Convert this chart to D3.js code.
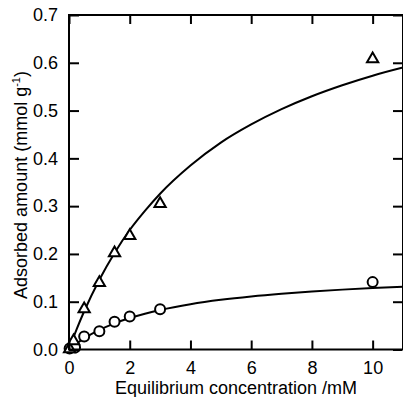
<!DOCTYPE html>
<html>
<head>
<meta charset="utf-8">
<script src="https://cdn.jsdelivr.net/npm/d3@7"></script>
<style>
  body { margin: 0; background: #fff; }
  svg { display: block; font-family: "Liberation Sans", Arial, sans-serif; }
</style>
</head>
<body>
<svg id="chart" width="403" height="397"></svg>
<script>
// measured points (triangles / circles)
const triX = [0.02, 0.15, 0.5, 1.0, 1.5, 2.0, 3.0, 10];
const triY = [0.003, 0.02, 0.087, 0.142, 0.204, 0.24, 0.307, 0.61];
const cirX = [0.02, 0.2, 0.5, 1.0, 1.5, 2.0, 3.0, 10];
const cirY = [0.002, 0.004, 0.027, 0.038, 0.058, 0.069, 0.084, 0.141];

// fitted curves
const fitX = [0, 0.25, 0.5, 1, 1.5, 2, 2.5, 3, 4, 5, 6, 7, 8, 9, 10, 11];
const triFitY = [0, 0.042, 0.080, 0.146, 0.202, 0.250, 0.290, 0.326, 0.385, 0.433, 0.471, 0.503, 0.530, 0.553, 0.573, 0.590];
const cirFitY = [0, 0.0125, 0.0232, 0.0409, 0.0547, 0.0658, 0.075, 0.0826, 0.0947, 0.1039, 0.111, 0.1167, 0.1214, 0.1253, 0.1286, 0.1315];

const xTicks = [0, 2, 4, 6, 8, 10];
const yTicks = [0, 0.1, 0.2, 0.3, 0.4, 0.5, 0.6, 0.7];

const svg = d3.select("#chart");
const mLeft = 69, mRight = 403, mTop = 15, mBottom = 349.5;

const x = d3.scaleLinear().domain([0, 11]).range([mLeft, mRight]);
const y = d3.scaleLinear().domain([0, 0.7]).range([mBottom, mTop]);

// curves
const line = d3.line()
    .x(d => x(d[0]))
    .y(d => y(d[1]))
    .curve(d3.curveMonotoneX);

[triFitY, cirFitY].forEach(ys => {
    svg.append("path")
        .attr("fill", "none")
        .attr("stroke", "#000")
        .attr("stroke-width", 2)
        .attr("d", line(fitX.map((v, i) => [v, ys[i]])));
});

// circles
svg.selectAll(".cir")
    .data(cirX.map((v, i) => [v, cirY[i]]))
    .enter().append("circle")
    .attr("cx", d => x(d[0]))
    .attr("cy", d => y(d[1]))
    .attr("r", 5)
    .attr("fill", "#fff")
    .attr("stroke", "#000")
    .attr("stroke-width", 2);

// triangles
const tri = d3.symbol().type(d3.symbolTriangle).size(55);
svg.selectAll(".tri")
    .data(triX.map((v, i) => [v, triY[i]]))
    .enter().append("path")
    .attr("transform", d => `translate(${x(d[0])},${y(d[1]) + 1})`)
    .attr("d", tri)
    .attr("fill", "#fff")
    .attr("stroke", "#000")
    .attr("stroke-width", 2);

// frame
svg.append("rect")
    .attr("x", mLeft).attr("y", mTop)
    .attr("width", mRight - mLeft).attr("height", mBottom - mTop)
    .attr("fill", "none")
    .attr("stroke", "#000")
    .attr("stroke-width", 2);

// axes with inward ticks
const fmtY = d3.format(".1f");
const xAxis = svg.append("g")
    .attr("transform", `translate(0,${mBottom})`)
    .call(d3.axisBottom(x).tickValues(xTicks).tickSizeInner(-9).tickSizeOuter(0).tickPadding(12));
const yAxis = svg.append("g")
    .attr("transform", `translate(${mLeft},0)`)
    .call(d3.axisLeft(y).tickValues(yTicks).tickFormat(fmtY).tickSizeInner(-10).tickSizeOuter(0).tickPadding(11));
const xTop = svg.append("g")
    .attr("transform", `translate(0,${mTop})`)
    .call(d3.axisTop(x).tickValues(xTicks).tickSizeInner(-9).tickSizeOuter(0).tickFormat(""));
const yRight = svg.append("g")
    .attr("transform", `translate(${mRight - 1},0)`)
    .call(d3.axisRight(y).tickValues(yTicks).tickSizeInner(-9).tickSizeOuter(0).tickFormat(""));

[xAxis, yAxis, xTop, yRight].forEach(g => {
    g.select(".domain").remove();
    g.selectAll("line").attr("stroke-width", 2);
    g.selectAll("text").attr("font-size", 18).attr("font-family", "Liberation Sans, Arial, sans-serif").attr("fill", "#000");
});

// titles
svg.append("text")
    .attr("x", 115)
    .attr("y", 394)
    .attr("font-size", 18)
    .text("Equilibrium concentration /mM");

const yt = svg.append("text")
    .attr("transform", `translate(27,185) rotate(-90)`)
    .attr("text-anchor", "middle")
    .attr("font-size", 18);
yt.append("tspan").text("Adsorbed amount (mmol g");
yt.append("tspan").attr("font-size", 11).attr("dy", -7).text("-1");
yt.append("tspan").attr("dy", 7).text(")");
</script>
</body>
</html>
